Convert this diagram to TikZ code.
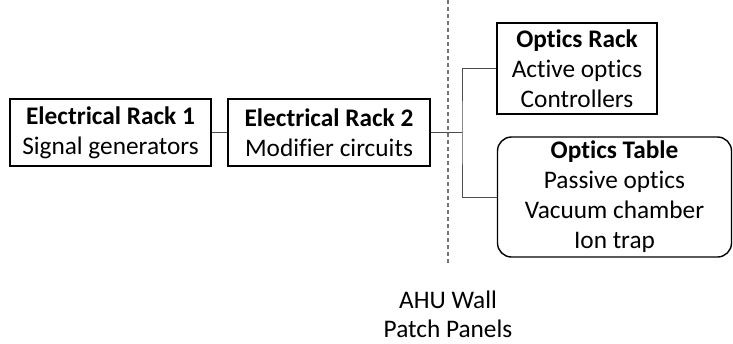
\documentclass[tikz,border=0pt]{standalone}
\usepackage{fontspec}
\setmainfont[Ligatures=CommonOff]{Carlito}
\usepackage{tikz}
\usepackage{xcolor}

\begin{document}
\begin{tikzpicture}[x=1pt, y=-1pt,
    box/.style={draw, line width=1.4pt, align=center, inner sep=0pt,
                font=\fontsize{25.3}{30}\selectfont},
    tbox/.style={box, rounded corners=14pt},
    wire/.style={draw=black!70, line width=0.9pt},
    wall/.style={draw=black!55, line width=1.1pt, dash pattern=on 4pt off 3pt}
]
\useasboundingbox (0,0) rectangle (733,343);
\node[box, minimum width=201pt, minimum height=67pt] (er1) at (110.5,132.5) {\textbf{Electrical Rack 1}\\Signal generators};
\node[box, minimum width=202pt, minimum height=67pt] (er2) at (329,132.5) {\textbf{Electrical Rack 2}\\Modifier circuits};
\node[box, minimum width=160pt, minimum height=91pt] (orack) at (577,68.5) {\textbf{Optics Rack}\\Active optics\\Controllers};
\node[tbox, minimum width=234pt, minimum height=120pt] (otable) at (614.5,197) {\textbf{Optics Table}\\Passive optics\\Vacuum chamber\\Ion trap};
% patch panel wall
\coordinate (walltop) at (448,0);
\coordinate (wallbot) at (448,265);
\draw[wall] (walltop) -- (wallbot);
\node[align=center, inner sep=0pt, font=\fontsize{25.3}{29}\selectfont] (wlabel) at (448,314) {AHU Wall\\Patch Panels};
% cabling
\coordinate (jn) at (462,132.5);
\draw[wire] (er1) -- (er2);
\draw[wire] (er2.east) -- (jn);
\draw[wire] (orack.west) -| (jn) |- (otable.west);
\end{tikzpicture}
\end{document}
